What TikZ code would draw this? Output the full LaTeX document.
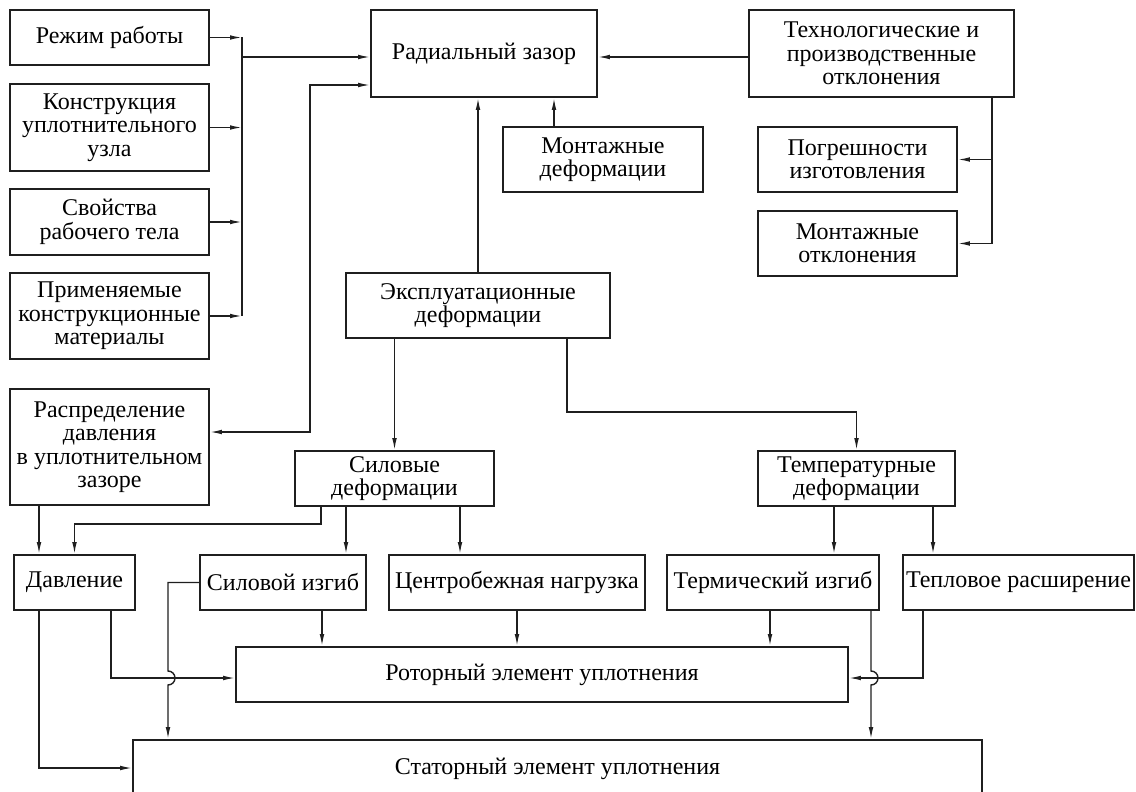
\documentclass[tikz,border=0pt]{standalone}
\usepackage{fontspec}
\setmainfont{Liberation Serif}
\usetikzlibrary{arrows.meta}

\begin{document}
\begin{tikzpicture}[x=1pt,y=-1pt,
  blk/.style={draw=black!88,line width=1.6pt,align=center,inner sep=1pt,
    font=\fontsize{24}{23.5}\selectfont},
  arr/.style={draw=black!88,line width=1.4pt,-{Latex[length=12pt,width=4.6pt]}},
  arrs/.style={draw=black!88,line width=1.4pt,{Latex[length=12pt,width=4.6pt]}-{Latex[length=12pt,width=4.6pt]}},
  ln/.style={draw=black!88,line width=1.4pt}]
\clip (0,0) rectangle (1136,792);
% left column
\node[blk,minimum width=199,minimum height=55] (rezhim) at (109.5,37.5) {Режим работы};
\node[blk,minimum width=199,minimum height=87] (konstr) at (109.5,127.5) {Конструкция\\уплотнительного\\узла};
\node[blk,minimum width=199,minimum height=66] (svoistva) at (109.5,222) {Свойства\\рабочего тела};
\node[blk,minimum width=199,minimum height=86] (materialy) at (109.5,316) {Применяемые\\конструкционные\\материалы};
\node[blk,minimum width=199,minimum height=116] (raspr) at (109.5,447) {Распределение\\давления\\в уплотнительном\\зазоре};
% top row
\node[blk,minimum width=226,minimum height=87] (zazor) at (484,53.5) {Радиальный зазор};
\node[blk,minimum width=265,minimum height=87] (tehn) at (881.5,53.5) {Технологические и\\производственные\\отклонения};
\node[blk,minimum width=199,minimum height=65] (pogr) at (857.5,159.5) {Погрешности\\изготовления};
\node[blk,minimum width=199,minimum height=65] (montotkl) at (857.5,243.5) {Монтажные\\отклонения};
\node[blk,minimum width=200,minimum height=65] (montdef) at (603,159.5) {Монтажные\\деформации};
% deformations
\node[blk,minimum width=264,minimum height=65] (ekspl) at (478,305.5) {Эксплуатационные\\деформации};
\node[blk,minimum width=199,minimum height=55] (silovye) at (394.5,478.5) {Силовые\\деформации};
\node[blk,minimum width=197,minimum height=55] (temper) at (856.5,478.5) {Температурные\\деформации};
% loads
\node[blk,minimum width=121,minimum height=55] (davlenie) at (74.5,582.5) {Давление};
\node[blk,minimum width=166,minimum height=55] (silizgib) at (283,582.5) {Силовой изгиб};
\node[blk,minimum width=256,minimum height=55] (centrob) at (517,582.5) {Центробежная нагрузка};
\node[blk,minimum width=212,minimum height=55] (termizgib) at (773,582.5) {Термический изгиб};
\node[blk,minimum width=231,minimum height=55] (teplovoe) at (1018.5,582.5) {Тепловое расширение};
% seal elements
\node[blk,minimum width=612,minimum height=55] (rotor) at (542,674.5) {Роторный элемент уплотнения};
\node[blk,minimum width=849,minimum height=58] (stator) at (557.5,769) {Статорный элемент уплотнения};

% coordinates of the bends
\coordinate (bus) at (242,0);
\coordinate (busin) at (242,57);
\coordinate (loopA) at (310,432);
\coordinate (loopB) at (310,85);
\coordinate (tbus) at (992,0);
\coordinate (md) at (554,0);
\coordinate (ek) at (567,412);
\coordinate (d1) at (39,0);
\coordinate (s1) at (321,524);
\coordinate (s2) at (346,0);
\coordinate (s3) at (460,0);
\coordinate (t1) at (834,0);
\coordinate (t2) at (933,0);
\coordinate (r1) at (322,0);
\coordinate (r2) at (770,0);
\coordinate (j1) at (168,678);
\coordinate (j2) at (871,678);
\coordinate (d3) at (111,678);
\coordinate (t3) at (923,678);
\coordinate (d4) at (39,768);

% inputs of the radial gap
\foreach \n in {rezhim,konstr,svoistva,materialy}
  \draw[arr] (\n.east) -- (\n.east -| bus);
\draw[ln] (rezhim.east -| bus) -- (materialy.east -| bus);
\draw[arr] (busin) -- (busin -| zazor.west);
\draw[arrs] (loopA -| raspr.east) -- (loopA) -- (loopB) -- (loopB -| zazor.west);
\draw[arr] (tehn.west |- busin) -- (zazor.east |- busin);
\draw[arr] (tbus |- tehn.south) |- (montotkl.east);
\draw[arr] (tbus |- pogr.east) -- (pogr.east);
\draw[arr] (md |- montdef.north) -- (md |- zazor.south);
\draw[arr] (ekspl.north) -- (ekspl.north |- zazor.south);

% deformations
\draw[arr] (ekspl.south -| silovye.north) -- (silovye.north);
\draw[arr] (ek |- ekspl.south) -- (ek) -| (temper.north);
\draw[arr] (d1 |- raspr.south) -- (d1 |- davlenie.north);
\draw[arr] (s1 |- silovye.south) -- (s1) -| (davlenie.north);
\draw[arr] (s2 |- silovye.south) -- (s2 |- silizgib.north);
\draw[arr] (s3 |- silovye.south) -- (s3 |- centrob.north);
\draw[arr] (t1 |- temper.south) -- (t1 |- termizgib.north);
\draw[arr] (t2 |- temper.south) -- (t2 |- teplovoe.north);

% to the seal elements
\draw[arr] (r1 |- silizgib.south) -- (r1 |- rotor.north);
\draw[arr] (centrob.south) -- (centrob.south |- rotor.north);
\draw[arr] (r2 |- termizgib.south) -- (r2 |- rotor.north);
\draw[arr] (d3 |- davlenie.south) -- (d3) -- (d3 -| rotor.west);
\draw[arr] (t3 |- teplovoe.south) -- (t3) -- (t3 -| rotor.east);
\draw[arr] (d4 |- davlenie.south) -- (d4) -- (d4 -| stator.west);
\draw[arr] (silizgib.west) -| ([yshift=7pt]j1) arc[start angle=90,end angle=-90,radius=7pt] -- (j1 |- stator.north);
\draw[arr] (j2 |- termizgib.south) -- ([yshift=7pt]j2) arc[start angle=90,end angle=-90,radius=7pt] -- (j2 |- stator.north);
\end{tikzpicture}
\end{document}
